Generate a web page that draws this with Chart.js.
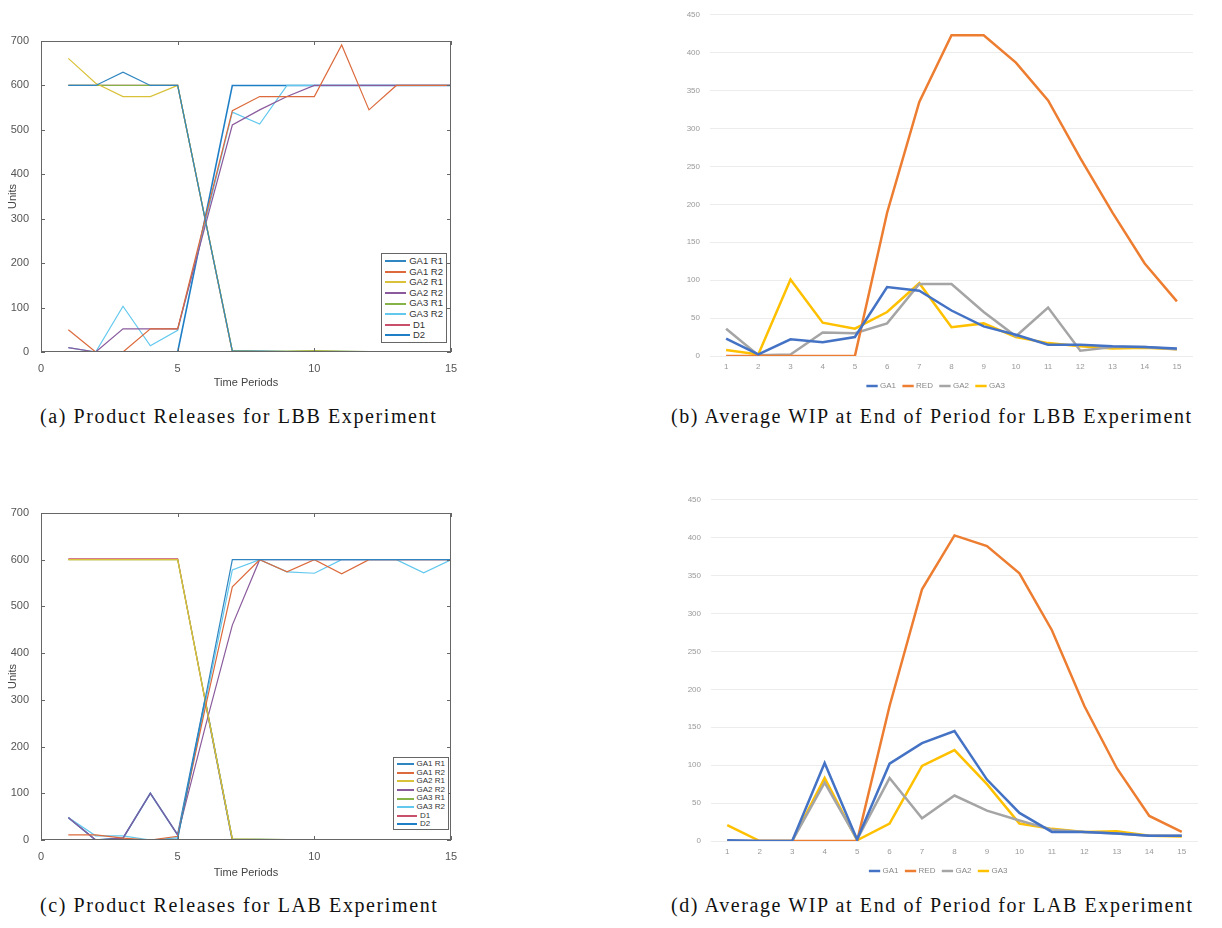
<!DOCTYPE html>
<html>
<head>
<meta charset="utf-8">
<script src="https://cdn.jsdelivr.net/npm/chart.js@4.4.1/dist/chart.umd.min.js"></script>
<style>
  body { margin: 0; background: #fff; width: 1222px; height: 928px; position: relative; overflow: hidden; }
  .box { position: absolute; }
  .caption { position: absolute; font-family: "Liberation Serif", "DejaVu Serif", serif; font-size: 20px; letter-spacing: 1.6px; color: #111; white-space: nowrap; }
  .mlegend { position: absolute; background: #fff; border: 1px solid #666; font-family: "Liberation Sans", Arial, sans-serif; color: #333; padding: 2px 3px; box-sizing: border-box; }
  .mlegend .row { display: flex; align-items: center; white-space: nowrap; }
  .mlegend .swatch { display: inline-block; height: 2px; margin-right: 3px; }
</style>
</head>
<body>
<div class="box" style="left:0;top:30px;width:470px;height:360px"><canvas id="chart-a"></canvas></div>
<div class="box" style="left:680px;top:0;width:530px;height:400px"><canvas id="chart-b"></canvas></div>
<div class="box" style="left:0;top:500px;width:470px;height:380px"><canvas id="chart-c"></canvas></div>
<div class="box" style="left:680px;top:485px;width:530px;height:400px"><canvas id="chart-d"></canvas></div>

<div id="legend-a" class="mlegend" style="left:381px;top:253px;width:66px;height:90px;font-size:9.5px;line-height:10.6px"></div>
<div id="legend-c" class="mlegend" style="left:393px;top:757px;width:56px;height:73px;font-size:8px;line-height:8.6px"></div>

<div class="caption" style="left:40px;top:405px">(a) Product Releases for LBB Experiment</div>
<div class="caption" style="left:671px;top:405px">(b) Average WIP at End of Period for LBB Experiment</div>
<div class="caption" style="left:40px;top:894px">(c) Product Releases for LAB Experiment</div>
<div class="caption" style="left:671px;top:894px">(d) Average WIP at End of Period for LAB Experiment</div>

<script>
const periods = [1, 2, 3, 4, 5, 6, 7, 8, 9, 10, 11, 12, 13, 14, 15];
const releaseLabels = ['GA1 R1', 'GA1 R2', 'GA2 R1', 'GA2 R2', 'GA3 R1', 'GA3 R2', 'D1', 'D2'];
const releaseColors = ['#2f86c0', '#dc6a3c', '#d9c23a', '#8a5a9c', '#86b24a', '#62c8ee', '#c8506a', '#1f7fc6'];
const releaseYTicks = [0, 100, 200, 300, 400, 500, 600, 700];
const releaseXTicks = [0, 5, 10, 15];

// LBB product releases
const lbbGa1R1 = [600, 600, 630, 600, 600, 300, 2, 2, 1, 1, 1, 1, 1, 1, 1];
const lbbGa1R2 = [50, 0, 0, 52, 52, 298, 543, 575, 575, 575, 691, 545, 600, 600, 600];
const lbbGa2R1 = [661, 605, 575, 575, 600, 300, 2, 1, 1, 2, 1, 1, 1, 1, 1];
const lbbGa2R2 = [10, 0, 52, 52, 52, 282, 511, 545, 575, 600, 600, 600, 600, 600, 600];
const lbbGa3R1 = [600, 600, 600, 600, 600, 302, 3, 2, 2, 3, 2, 1, 1, 1, 1];
const lbbGa3R2 = [10, 0, 103, 14, 49, 290, 540, 513, 600, 600, 600, 600, 600, 600, 600];
const lbbD1 = [600, 600, 600, 600, 600, 300, 0, 0, 0, 0, 0, 0, 0, 0, 0];
const lbbD2 = [0, 0, 0, 0, 0, 300, 600, 600, 600, 600, 600, 600, 600, 600, 600];

// LAB product releases
const labGa1R1 = [0, 0, 0, 0, 2, 300, 600, 600, 600, 600, 600, 600, 600, 600, 600];
const labGa1R2 = [11, 11, 4, 0, 8, 280, 542, 600, 574, 600, 570, 600, 600, 600, 600];
const labGa2R1 = [600, 600, 600, 600, 600, 300, 2, 1, 1, 1, 1, 1, 1, 1, 1];
const labGa2R2 = [48, 0, 4, 100, 11, 240, 460, 600, 600, 600, 600, 600, 600, 600, 600];
const labGa3R1 = [600, 600, 600, 600, 600, 302, 2, 2, 1, 1, 1, 1, 1, 1, 1];
const labGa3R2 = [48, 9, 9, 0, 5, 290, 578, 600, 574, 571, 600, 600, 600, 572, 600];
const labD1 = [602, 602, 602, 602, 602, 300, 0, 0, 0, 0, 1, 0, 0, 0, 0];
const labD2 = [48, 0, 4, 100, 11, 300, 0, 0, 0, 0, 0, 0, 0, 0, 0];

// Average WIP
const wipLabels = ['GA1', 'RED', 'GA2', 'GA3'];
const wipColors = ['#4472C4', '#ED7D31', '#A5A5A5', '#FFC000'];
const wipYTicks = [0, 50, 100, 150, 200, 250, 300, 350, 400, 450];

const lbbWipGa1 = [23, 2, 22, 18, 25, 91, 86, 60, 39, 28, 15, 15, 13, 12, 10];
const lbbWipRed = [0, 0, 0, 0, 0, 189, 335, 423, 423, 387, 337, 261, 189, 122, 72];
const lbbWipGa2 = [36, 1, 2, 31, 30, 43, 95, 95, 58, 26, 64, 7, 12, 12, 9];
const lbbWipGa3 = [8, 2, 101, 44, 36, 58, 96, 38, 43, 25, 17, 13, 10, 11, 9];

const labWipGa1 = [1, 0, 0, 103, 2, 102, 129, 145, 81, 37, 12, 12, 10, 7, 7];
const labWipRed = [0, 0, 0, 0, 0, 178, 332, 403, 389, 353, 278, 178, 96, 33, 12];
const labWipGa2 = [0, 0, 0, 77, 2, 83, 30, 60, 40, 27, 15, 12, 10, 7, 7];
const labWipGa3 = [21, 0, 0, 83, 1, 23, 99, 120, 75, 23, 16, 12, 13, 7, 6];

const lbbReleases = [lbbGa1R1, lbbGa1R2, lbbGa2R1, lbbGa2R2, lbbGa3R1, lbbGa3R2, lbbD1, lbbD2];
const labReleases = [labGa1R1, labGa1R2, labGa2R1, labGa2R2, labGa3R1, labGa3R2, labD1, labD2];
const lbbWip = [lbbWipGa1, lbbWipRed, lbbWipGa2, lbbWipGa3];
const labWip = [labWipGa1, labWipRed, labWipGa2, labWipGa3];

Chart.defaults.font.family = '"Liberation Sans", Arial, sans-serif';
Chart.defaults.animation = false;

// box around the axes with inward ticks, the way MATLAB draws it
const matlabBox = {
    id: 'matlabBox',
    afterDraw(chart) {
        const { ctx, chartArea: a, scales } = chart;
        ctx.save();
        ctx.strokeStyle = '#666';
        ctx.lineWidth = 1;
        ctx.strokeRect(a.left + 0.5, a.top + 0.5, a.width - 1, a.height - 1);
        scales.x.ticks.forEach(t => {
            const px = Math.round(scales.x.getPixelForValue(t.value)) + 0.5;
            ctx.beginPath();
            ctx.moveTo(px, a.bottom); ctx.lineTo(px, a.bottom - 4);
            ctx.moveTo(px, a.top); ctx.lineTo(px, a.top + 4);
            ctx.stroke();
        });
        scales.y.ticks.forEach(t => {
            const py = Math.round(scales.y.getPixelForValue(t.value)) + 0.5;
            ctx.beginPath();
            ctx.moveTo(a.left, py); ctx.lineTo(a.left + 4, py);
            ctx.moveTo(a.right, py); ctx.lineTo(a.right - 4, py);
            ctx.stroke();
        });
        ctx.restore();
    }
};

function releaseChart(canvasId, seriesList, padTop, xAxisHeight) {
    const datasets = seriesList.map((values, i) => ({
        label: releaseLabels[i],
        data: values.map((v, j) => ({ x: periods[j], y: v })),
        borderColor: releaseColors[i],
        backgroundColor: releaseColors[i],
        borderWidth: i === 7 ? 1.6 : 1.2,
        pointRadius: 0,
        tension: 0,
    }));
    return new Chart(document.getElementById(canvasId), {
        type: 'line',
        data: { datasets },
        plugins: [matlabBox],
        options: {
            responsive: true,
            maintainAspectRatio: false,
            layout: { padding: { top: padTop, right: 19, left: 6, bottom: 0 } },
            plugins: { legend: { display: false }, tooltip: { enabled: false } },
            scales: {
                x: {
                    type: 'linear',
                    min: releaseXTicks[0],
                    max: releaseXTicks[releaseXTicks.length - 1],
                    afterBuildTicks: s => { s.ticks = releaseXTicks.map(v => ({ value: v })); },
                    grid: { display: false },
                    border: { display: false },
                    ticks: { color: '#555', font: { size: 11 }, padding: 2, maxRotation: 0 },
                    title: { display: true, text: 'Time Periods', color: '#444', font: { size: 11 }, padding: 0 },
                    afterFit: s => { s.height = xAxisHeight; },
                },
                y: {
                    min: 0,
                    max: 700,
                    afterBuildTicks: s => { s.ticks = releaseYTicks.map(v => ({ value: v })); },
                    grid: { display: false },
                    border: { display: false },
                    ticks: { color: '#555', font: { size: 11 }, padding: 4 },
                    title: { display: true, text: 'Units', color: '#444', font: { size: 11 }, padding: 0 },
                    afterFit: s => { s.width = 35; },
                },
            },
        },
    });
}

function wipChart(canvasId, seriesList, padTop, padRight, yWidth, xHeight) {
    const datasets = seriesList.map((values, i) => ({
        label: wipLabels[i],
        data: values,
        borderColor: wipColors[i],
        backgroundColor: wipColors[i],
        borderWidth: 2.5,
        pointRadius: 0,
        tension: 0,
    }));
    return new Chart(document.getElementById(canvasId), {
        type: 'line',
        data: { labels: periods.map(String), datasets },
        options: {
            responsive: true,
            maintainAspectRatio: false,
            layout: { padding: { top: padTop, right: padRight, left: 0, bottom: 0 } },
            plugins: {
                tooltip: { enabled: false },
                legend: {
                    position: 'bottom',
                    labels: {
                        usePointStyle: true,
                        pointStyle: 'line',
                        boxWidth: 20,
                        padding: 8,
                        color: '#888',
                        font: { size: 8 },
                    },
                },
            },
            scales: {
                x: {
                    offset: true,
                    grid: { display: false, drawTicks: false },
                    border: { display: false },
                    ticks: { color: '#999', font: { size: 8 }, padding: 6, maxRotation: 0, autoSkip: false },
                    afterFit: s => { s.height = xHeight; },
                },
                y: {
                    min: 0,
                    max: 450,
                    afterBuildTicks: s => { s.ticks = wipYTicks.map(v => ({ value: v })); },
                    grid: { color: '#ececec', drawTicks: false },
                    border: { display: false },
                    ticks: { color: '#999', font: { size: 8 }, padding: 10 },
                    afterFit: s => { s.width = yWidth; },
                },
            },
        },
    });
}

function renderLegend(divId, swatchWidth) {
    const div = document.getElementById(divId);
    div.innerHTML = releaseLabels.map((label, i) => `
        <div class="row"><span class="swatch" style="width:${swatchWidth}px;background:${releaseColors[i]}"></span>${label}</div>
    `).join('');
}

releaseChart('chart-a', lbbReleases, 11, 38);
releaseChart('chart-c', labReleases, 13, 40);
wipChart('chart-b', lbbWip, 8, 17, 30, 18);
wipChart('chart-d', labWip, 10, 12, 31, 18);
renderLegend('legend-a', 25);
renderLegend('legend-c', 20);
</script>
</body>
</html>
